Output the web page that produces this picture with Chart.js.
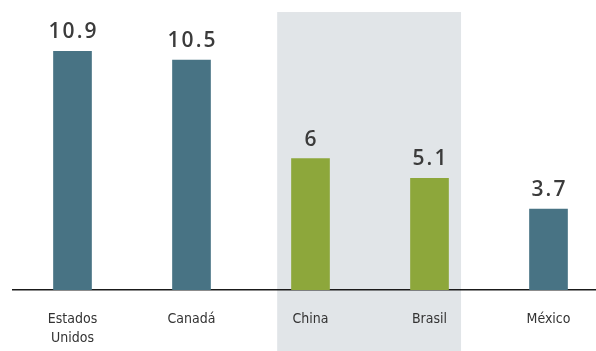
<!DOCTYPE html>
<html>
<head>
<meta charset="utf-8">
<script src="https://cdn.jsdelivr.net/npm/chart.js@4/dist/chart.umd.min.js"></script>
<style>
  html, body { margin: 0; padding: 0; background: #fff; overflow: hidden; }
  #caja { width: 620px; height: 351px; }
</style>
</head>
<body>
<div id="caja"><canvas id="id-grafico"></canvas></div>
<script>
// datos
const paises = ['Estados Unidos', 'Canadá', 'China', 'Brasil', 'México'];
const etiquetas = [['Estados', 'Unidos'], ['Canadá'], ['China'], ['Brasil'], ['México']];
const valores = [10.9, 10.5, 6, 5.1, 3.7];
const destacados = ['China', 'Brasil'];

const azul = '#487384';
const verde = '#8da73b';
const gris = '#e1e5e8';

const colores = paises.map(p => destacados.includes(p) ? verde : azul);

// banda gris detras de China y Brasil
const fondoGris = {
    id: 'fondoGris',
    beforeDraw(chart) {
        const x = chart.scales.x;
        const y = chart.scales.y;
        const ctx = chart.ctx;
        const ancho = x.getPixelForValue(1) - x.getPixelForValue(0);
        const i1 = paises.indexOf(destacados[0]);
        const i2 = paises.indexOf(destacados[destacados.length - 1]);
        const izq = x.getPixelForValue(i1) - ancho * 0.28;
        const der = x.getPixelForValue(i2) + ancho * 0.265;
        const arriba = y.getPixelForValue(12.7);
        ctx.save();
        ctx.fillStyle = gris;
        ctx.fillRect(izq, arriba, der - izq, chart.height - arriba);
        ctx.restore();
    }
};

// valores encima de las barras
const valoresArriba = {
    id: 'valoresArriba',
    afterDatasetsDraw(chart) {
        const ctx = chart.ctx;
        const meta = chart.getDatasetMeta(0);
        ctx.save();
        ctx.font = '600 21px "Open Sans", "Noto Sans", sans-serif';
        ctx.fillStyle = '#3b3b3b';
        ctx.textAlign = 'center';
        ctx.textBaseline = 'alphabetic';
        ctx.letterSpacing = '2px';
        meta.data.forEach((bar, i) => {
            ctx.fillText(String(valores[i]), bar.x + 1, bar.y - 13);
        });
        ctx.restore();
    }
};

new Chart('id-grafico', {
    type: 'bar',
    data: {
        labels: etiquetas,
        datasets: [{
            data: valores,
            backgroundColor: colores,
            barThickness: 38,
            borderWidth: 0
        }]
    },
    options: {
        responsive: true,
        maintainAspectRatio: false,
        animation: false,
        layout: { padding: { left: 13, right: 12, top: 0, bottom: 0 } },
        plugins: {
            legend: { display: false },
            tooltip: { enabled: false }
        },
        scales: {
            x: {
                offset: true,
                z: 1,
                grid: { display: false, drawTicks: false },
                border: { display: true, color: '#1a1a1a', width: 1.5 },
                afterFit(scale) {
                    scale.height = 61;
                },
                ticks: {
                    autoSkip: false,
                    maxRotation: 0,
                    padding: 20,
                    color: '#333',
                    font: { family: '"Liberation Sans Narrow", "DejaVu Sans Condensed", sans-serif', size: 14, lineHeight: 1.36 }
                }
            },
            y: {
                display: false,
                min: 0,
                max: 13.25
            }
        }
    },
    plugins: [fondoGris, valoresArriba]
});
</script>
</body>
</html>
